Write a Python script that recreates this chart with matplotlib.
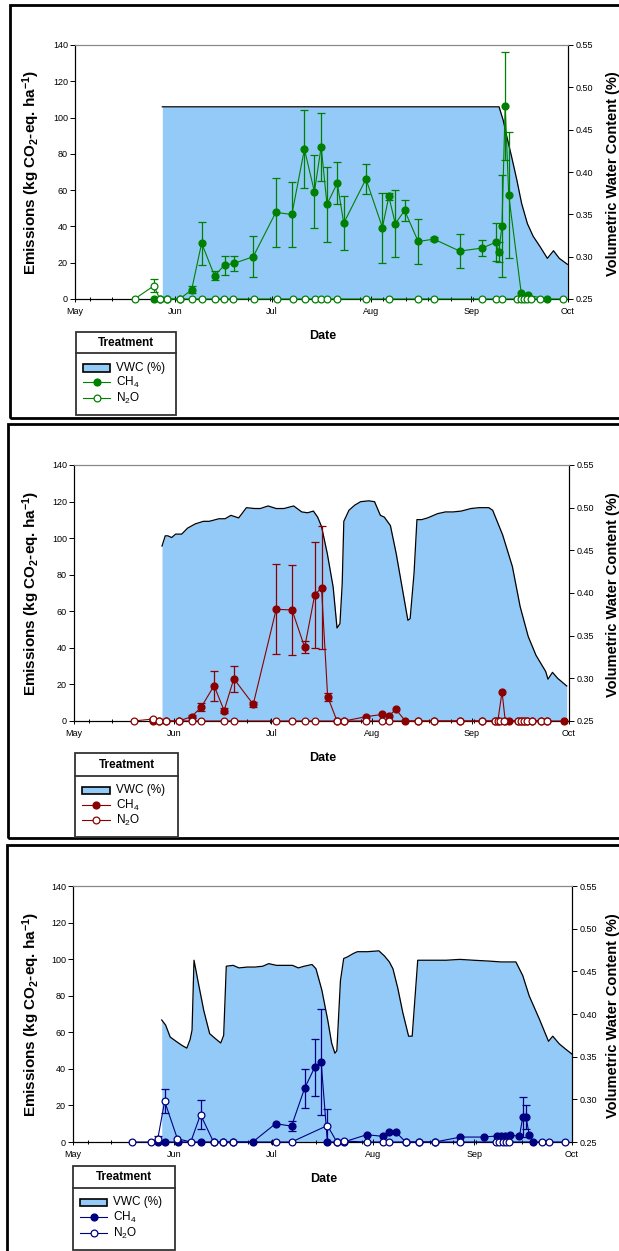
import numpy as np
import matplotlib
matplotlib.use('Agg')
import matplotlib.pyplot as plt
from matplotlib.lines import Line2D
from matplotlib.patches import Rectangle

plt.rcParams['font.family'] = ['Liberation Sans', 'DejaVu Sans']
plt.rcParams['mathtext.fontset'] = 'custom'
plt.rcParams['mathtext.rm'] = 'Liberation Sans'
plt.rcParams['mathtext.it'] = 'Liberation Sans:italic'
plt.rcParams['mathtext.bf'] = 'Liberation Sans:bold'
plt.rcParams['mathtext.sf'] = 'Liberation Sans'

# ---------------- data (x = days after May 1) ----------------
month_labels = ['May', 'Jun', 'Jul', 'Aug', 'Sep', 'Oct']
month_days = [0, 31, 61, 92, 123, 153]
emis_ticks = [0, 20, 40, 60, 80, 100, 120, 140]
vwc_ticks = [0.25, 0.30, 0.35, 0.40, 0.45, 0.50, 0.55]

# Panel 1 (green)
p1_vwc_day = [27.1, 131.6, 132.9, 134.0, 135.5, 137.1, 138.6, 140.4, 142.2, 144.3, 146.6, 148.5, 150.3, 152.8]
p1_vwc = [0.477, 0.477, 0.461, 0.442, 0.418, 0.391, 0.363, 0.339, 0.324, 0.312, 0.298, 0.307, 0.298, 0.291]
p1_ch4_day = [24.5, 26.3, 28.5, 32.5, 36.2, 39.3, 43.3, 46.4, 49.3, 55.3, 62.3, 67.3, 71.2, 74.3, 76.4, 78.2,
              81.4, 83.4, 90.3, 95.4, 97.4, 99.4, 102.3, 106.5, 111.4, 119.4, 126.4, 130.5, 131.5, 132.5,
              133.5, 134.6, 138.5, 140.6, 146.6]
p1_ch4 = [0, 0, 0, 0, 5.1, 30.8, 12.8, 18.7, 19.6, 23.3, 47.7, 46.6, 82.6, 59.1, 83.9, 52.1,
          63.9, 41.8, 66.1, 39.4, 56.5, 41.5, 48.8, 31.7, 33.0, 26.4, 28.1, 31.2, 25.9, 40.2,
          106.4, 57.3, 3.1, 2.0, 0]
p1_ch4_err = [0, 0, 0, 0, 2.0, 11.9, 2.5, 5.2, 4.0, 11.4, 19.0, 17.7, 21.4, 20.0, 18.8, 20.5,
              11.7, 14.9, 8.3, 19.3, 1.7, 18.4, 6.0, 12.3, 1.0, 9.3, 4.6, 10.5, 5.5, 28.0,
              29.6, 34.5, 0, 0, 0]
p1_n2o_day = [18.5, 24.5, 26.3, 28.5, 32.5, 36.4, 39.5, 43.4, 46.3, 49.1, 55.6, 62.6, 67.5, 71.4, 74.4,
              76.4, 78.2, 81.4, 90.4, 97.4, 106.5, 111.4, 126.4, 130.5, 132.4, 137.3, 138.3, 139.3,
              140.3, 141.6, 144.4, 151.4]
p1_n2o = [0, 7.3, 0, 0, 0, 0, 0, 0, 0, 0, 0, 0, 0, 0, 0,
          0, 0, 0, 0, 0, 0, 0, 0, 0, 0, 0, 0, 0,
          0, 0, 0, 0]
p1_n2o_err = [0, 3.7, 0, 0, 0, 0, 0, 0, 0, 0, 0, 0, 0, 0, 0,
              0, 0, 0, 0, 0, 0, 0, 0, 0, 0, 0, 0, 0,
              0, 0, 0, 0]

# Panel 2 (dark red)
p2_vwc_day = [27.2, 28.2, 29.0, 30.2, 31.4, 33.3, 35.1, 37.5, 40.0, 41.8, 44.8, 46.7, 48.5, 50.9, 53.3,
              55.8, 57.6, 60.0, 62.5, 64.9, 67.9, 70.4, 72.2, 74.0, 75.3, 76.5, 78.3, 80.1, 81.3, 82.2,
              82.9, 83.4, 85.0, 86.8, 88.6, 91.1, 92.9, 94.7, 95.9, 97.8, 99.6, 101.4, 103.2, 103.9, 105.1,
              106.0, 107.5, 109.3, 112.4, 114.8, 117.2, 119.7, 122.7, 125.2, 128.2, 129.4, 132.5, 135.5,
              137.9, 140.4, 142.8, 145.8, 146.5, 147.9, 149.5, 152.3]
p2_vwc = [0.455, 0.467, 0.467, 0.465, 0.469, 0.469, 0.476, 0.481, 0.484, 0.484, 0.487, 0.487, 0.491, 0.488, 0.500,
          0.499, 0.499, 0.502, 0.499, 0.499, 0.502, 0.495, 0.494, 0.496, 0.489, 0.478, 0.446, 0.407, 0.359, 0.364,
          0.411, 0.484, 0.497, 0.503, 0.507, 0.508, 0.507, 0.491, 0.489, 0.479, 0.446, 0.407, 0.368, 0.370, 0.423,
          0.486, 0.486, 0.488, 0.493, 0.495, 0.495, 0.496, 0.499, 0.500, 0.500, 0.497, 0.468, 0.431,
          0.384, 0.349, 0.327, 0.308, 0.299, 0.307, 0.300, 0.291]
p2_ch4_day = [24.5, 26.4, 28.5, 32.4, 36.4, 39.4, 43.3, 46.4, 49.4, 55.4, 62.5, 67.4, 71.3, 74.4, 76.5,
              78.4, 81.3, 83.5, 90.4, 95.3, 97.4, 99.5, 102.4, 106.4, 111.4, 119.3, 126.2, 130.1, 131.0,
              132.3, 133.3, 134.4, 137.1, 138.1, 139.1, 140.1, 141.5, 144.4, 146.3, 151.4]
p2_ch4 = [0, 0, 0, 0, 2.4, 7.8, 19.3, 5.7, 23.1, 9.1, 61.1, 60.7, 40.3, 68.9, 72.9,
          13.3, 0, 0, 2.4, 3.6, 2.9, 6.4, 0, 0, 0, 0, 0, 0, 0,
          16.0, 0, 0, 0, 0, 0, 0, 0, 0, 0, 0]
p2_ch4_err = [0, 0, 0, 0, 0.8, 2.3, 8.2, 1.4, 7.1, 1.5, 24.6, 24.6, 3.2, 28.8, 33.7,
              2.2, 0, 0, 0, 0, 0, 0, 0, 0, 0, 0, 0, 0, 0,
              0, 0, 0, 0, 0, 0, 0, 0, 0, 0, 0]
p2_n2o_day = [18.4, 24.5, 26.4, 28.5, 32.4, 36.4, 39.4, 46.4, 49.4, 62.5, 67.4, 71.3, 74.4, 81.3, 83.5,
              90.4, 95.3, 97.4, 106.4, 111.4, 119.3, 126.2, 130.1, 131.0, 131.7, 133.0, 137.1, 138.1,
              139.1, 140.1, 141.5, 144.4, 146.3]
p2_n2o = [0, 1.1, 0, 0, 0, 0, 0, 0, 0, 0, 0, 0, 0, 0, 0,
          0, 0, 0, 0, 0, 0, 0, 0, 0, 0, 0, 0, 0,
          0, 0, 0, 0, 0]
p2_n2o_err = [0, 0.6, 0, 0, 0, 0, 0, 0, 0, 0, 0, 0, 0, 0, 0,
              0, 0, 0, 0, 0, 0, 0, 0, 0, 0, 0, 0, 0,
              0, 0, 0, 0, 0]

# Panel 3 (navy)
p3_vwc_day = [27.2, 28.4, 29.8, 31.6, 33.5, 34.9, 35.9, 36.5, 37.1, 38.3, 40.1, 41.9, 43.7, 45.3, 46.2,
              47.0, 49.1, 50.9, 53.4, 55.8, 58.2, 60.0, 62.4, 64.8, 67.3, 69.1, 70.9, 73.3, 74.5, 76.3,
              78.1, 79.3, 80.3, 80.9, 82.0, 83.0, 84.2, 86.0, 87.2, 90.2, 93.8, 95.5, 97.0, 98.1, 99.6,
              101.1, 102.9, 104.0, 105.7, 108.3, 110.7, 114.4, 118.6, 122.8, 127.6, 131.3, 135.8, 137.9,
              139.9, 143.0, 145.8, 147.1, 149.1, 151.0, 153.0]
p3_vwc = [0.393, 0.387, 0.373, 0.368, 0.363, 0.360, 0.370, 0.381, 0.463, 0.439, 0.404, 0.377, 0.371, 0.366, 0.375,
          0.456, 0.457, 0.454, 0.455, 0.455, 0.456, 0.459, 0.457, 0.457, 0.457, 0.454, 0.456, 0.458, 0.453, 0.428,
          0.393, 0.366, 0.354, 0.357, 0.439, 0.465, 0.467, 0.471, 0.473, 0.473, 0.474, 0.468, 0.461, 0.453, 0.430,
          0.402, 0.374, 0.374, 0.463, 0.463, 0.463, 0.463, 0.464, 0.463, 0.462, 0.461, 0.461, 0.445,
          0.421, 0.394, 0.368, 0.374, 0.365, 0.359, 0.353]
p3_ch4_day = [26.2, 28.1, 32.1, 39.1, 43.1, 46.1, 49.1, 55.1, 62.1, 67.0, 71.0, 74.1, 76.1, 78.0, 80.9,
              83.0, 90.1, 94.9, 96.9, 98.9, 102.0, 106.0, 111.0, 118.8, 125.9, 129.9, 131.2, 132.6, 134.0,
              136.9, 137.9, 138.9, 139.9, 140.9]
p3_ch4 = [0, 0, 0, 0, 0, 0, 0, 0, 10.0, 8.7, 29.3, 40.8, 43.5, 0, 0,
          0, 4.0, 3.1, 5.3, 5.6, 0, 0, 0, 2.7, 2.7, 3.3, 3.3, 3.3, 3.6,
          3.3, 13.6, 13.6, 3.9, 0]
p3_ch4_err = [0, 0, 0, 0, 0, 0, 0, 0, 0, 2.9, 10.6, 15.8, 29.0, 0, 0,
              0, 0, 0, 0, 0, 0, 0, 0, 0, 0, 0, 0, 0, 0,
              0, 11.0, 6.4, 0, 0]
p3_n2o_day = [18.0, 23.8, 26.0, 28.1, 32.0, 36.1, 39.1, 43.1, 46.1, 49.1, 62.1, 67.0, 78.0, 80.9, 83.0,
              90.1, 94.9, 96.9, 102.0, 106.0, 111.0, 118.8, 129.7, 130.7, 131.7, 132.7, 133.8, 143.8,
              145.8, 150.9]
p3_n2o = [0, 0, 1.8, 22.3, 1.8, 0, 15.0, 0, 0, 0, 0, 0, 9.0, 0, 0.5,
          0, 0, 0, 0, 0, 0, 0, 0, 0, 0, 0, 0, 0,
          0, 0]
p3_n2o_err = [0, 0, 1.5, 6.7, 0, 0, 7.8, 0, 0, 0, 0, 0, 9.0, 0, 0,
              0, 0, 0, 0, 0, 0, 0, 0, 0, 0, 0, 0, 0,
              0, 0]

# ---------------- styling ----------------
W, H = 619, 1251
VWC_FILL = '#94CAF8'
fig = plt.figure(figsize=(W / 100, H / 100), dpi=100)


def fx(x):
    return x / W


def fy(y):
    return 1 - y / H


def rect(l, t, r, b):
    return [fx(l), fy(b), (r - l) / W, (b - t) / H]


def draw_panel(ax_px, border_px, leg_px, color, vwc_d, vwc_v, ch4_d, ch4_v, ch4_e, n2o_d, n2o_v, n2o_e):
    l, t, r, b = ax_px
    # panel border
    bl, bt, br, bb = border_px
    fig.add_artist(Rectangle((fx(bl), fy(bb)), (br - bl) / W, (bb - bt) / H, transform=fig.transFigure,
                             fill=False, ec='black', lw=2.0, clip_on=False))
    ax = fig.add_axes(rect(l, t, r, b))
    ax2 = ax.twinx()
    ax.set_zorder(ax2.get_zorder() + 1)
    ax.patch.set_visible(False)

    # VWC area
    ax2.fill_between(vwc_d, 0.25, vwc_v, color=VWC_FILL, lw=0)
    ax2.plot(vwc_d, vwc_v, color='black', lw=0.9)
    ax2.set_ylim(0.25, 0.55)
    ax2.set_yticks(vwc_ticks)
    ax2.set_yticklabels(['%.2f' % v for v in vwc_ticks])
    ax2.tick_params(axis='y', direction='out', length=3.5, width=0.7, labelsize=6.5, pad=2)

    # emissions
    ch4_d = np.array(ch4_d); ch4_v = np.array(ch4_v); ch4_e = np.array(ch4_e)
    n2o_d = np.array(n2o_d); n2o_v = np.array(n2o_v); n2o_e = np.array(n2o_e)
    m = ch4_e > 0
    ax.errorbar(ch4_d[m], ch4_v[m], yerr=ch4_e[m], fmt='none', ecolor=color, elinewidth=0.9,
                capsize=2.6, capthick=0.9, zorder=2)
    ax.plot(ch4_d, ch4_v, '-o', color=color, lw=0.8, ms=4.9, mfc=color, mec=color, clip_on=False, zorder=3)
    m = n2o_e > 0
    ax.errorbar(n2o_d[m], n2o_v[m], yerr=n2o_e[m], fmt='none', ecolor=color, elinewidth=0.9,
                capsize=2.6, capthick=0.9, zorder=4)
    ax.plot(n2o_d, n2o_v, '-o', color=color, lw=0.8, ms=4.9, mfc='white', mec=color, mew=0.9,
            clip_on=False, zorder=5)

    ax.set_xlim(0, 153)
    ax.set_ylim(0, 140)
    ax.set_yticks(emis_ticks)
    ax.set_xticks(month_days)
    ax.set_xticklabels(month_labels)
    ax.set_xticks(np.arange(4.6, 153, 7.0), minor=True)
    ax.tick_params(axis='y', direction='out', length=3.5, width=0.7, labelsize=6.5, pad=1.5)
    ax.tick_params(axis='x', which='major', direction='inout', length=5, width=0.7, labelsize=6.5, pad=3)
    ax.tick_params(axis='x', which='minor', direction='inout', length=3.5, width=0.7)
    for a in (ax, ax2):
        a.spines['top'].set_color('#888888')
        a.spines['top'].set_linewidth(0.8)
        a.spines['left'].set_linewidth(0.8)
        a.spines['right'].set_linewidth(0.8)
        a.spines['bottom'].set_linewidth(0.8)

    # axis titles
    yc = (t + b) / 2
    fig.text(fx(31), fy(yc), r'Emissions (kg CO$_\mathbf{2}$-eq. ha$^\mathbf{-1}$)', rotation=90,
             ha='center', va='center', fontsize=11, fontweight='bold')
    fig.text(fx(605.5), fy(yc + 2), 'Volumetric Water Content (%)', rotation=90,
             ha='left', va='center', fontsize=10.5, fontweight='bold')
    fig.text(fx((l + r) / 2 + 1), fy(b + 37), 'Date', ha='center', va='center', fontsize=9, fontweight='bold')

    # legend (Treatment box)
    ll, lt, lr, lb, sep, hy, ey, hx0, hx1, tx = leg_px
    fig.add_artist(Rectangle((fx(ll), fy(lb)), (lr - ll) / W, (lb - lt) / H, transform=fig.transFigure,
                             fill=False, ec='#333333', lw=1.3, clip_on=False))
    fig.add_artist(Line2D([fx(ll), fx(lr)], [fy(sep), fy(sep)], transform=fig.transFigure,
                          color='#333333', lw=1.3))
    fig.text(fx((ll + lr) / 2), fy(hy), 'Treatment', ha='center', va='center', fontsize=8.5, fontweight='bold')
    # VWC entry
    fig.add_artist(Rectangle((fx(hx0), fy(ey[0] + 3.5)), (hx1 - hx0) / W, 7 / H, transform=fig.transFigure,
                             fc=VWC_FILL, ec='black', lw=1.2))
    hxm = (hx0 + hx1) / 2
    fig.add_artist(Line2D([fx(hx0), fx(hx1)], [fy(ey[1]), fy(ey[1])], transform=fig.transFigure,
                          color=color, lw=0.8))
    fig.add_artist(Line2D([fx(hxm)], [fy(ey[1])], transform=fig.transFigure, marker='o', ms=4.9,
                          color=color, mfc=color, mec=color, lw=0))
    fig.add_artist(Line2D([fx(hx0), fx(hx1)], [fy(ey[2]), fy(ey[2])], transform=fig.transFigure,
                          color=color, lw=0.8))
    fig.add_artist(Line2D([fx(hxm)], [fy(ey[2])], transform=fig.transFigure, marker='o', ms=4.9,
                          color=color, mfc='white', mec=color, mew=0.9, lw=0))
    fig.text(fx(tx), fy(ey[0]), 'VWC (%)', ha='left', va='center', fontsize=8.5)
    fig.text(fx(tx), fy(ey[1]), r'CH$_4$', ha='left', va='center', fontsize=8.5)
    fig.text(fx(tx), fy(ey[2]), r'N$_2$O', ha='left', va='center', fontsize=8.5)
    return ax, ax2


draw_panel((75, 45, 568, 299), (10, 5, 700, 418),
           (76, 332, 176, 415, 353, 342.5, (368, 382, 398), 83, 110, 116),
           '#008000', p1_vwc_day, p1_vwc, p1_ch4_day, p1_ch4, p1_ch4_err, p1_n2o_day, p1_n2o, p1_n2o_err)
draw_panel((74, 465, 569, 721), (8, 424, 700, 838),
           (75, 753, 178, 837, 776, 764.5, (790, 805, 820), 82, 110, 116),
           '#8B0000', p2_vwc_day, p2_vwc, p2_ch4_day, p2_ch4, p2_ch4_err, p2_n2o_day, p2_n2o, p2_n2o_err)
draw_panel((73, 886, 572, 1142), (7, 845, 700, 1300),
           (73, 1166, 175, 1250, 1188, 1177, (1202, 1217, 1233), 80, 107, 113),
           '#000080', p3_vwc_day, p3_vwc, p3_ch4_day, p3_ch4, p3_ch4_err, p3_n2o_day, p3_n2o, p3_n2o_err)

fig.savefig('out.png', dpi=100)
